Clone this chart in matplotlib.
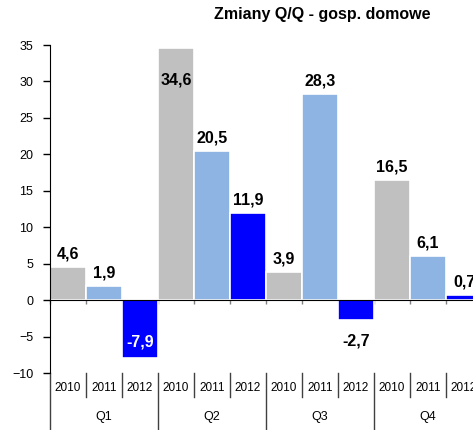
import numpy as np
import matplotlib
matplotlib.use("Agg")
import matplotlib.pyplot as plt
import matplotlib.transforms as mtransforms

plt.rcParams['font.family'] = ['Liberation Sans', 'DejaVu Sans']

# data
quarters = ["Q1", "Q2", "Q3", "Q4"]
years = ["2010", "2011", "2012"]
values = [
    [4.6, 1.9, -7.9],    # Q1
    [34.6, 20.5, 11.9],  # Q2
    [3.9, 28.3, -2.7],   # Q3
    [16.5, 6.1, 0.7],    # Q4
]
colors = ["#C0C0C0", "#8DB4E2", "#0000FF"]
title = "Zmiany Q/Q - gosp. domowe"

fig = plt.figure(figsize=(4.73, 4.30), dpi=100)
# axes runs past the right edge of the figure (chart is cropped there)
ax = fig.add_axes([50/473, 57/430, 432/473, 328/430])

ymin, ymax = -10, 35
nq, ny = len(quarters), len(years)

for qi, row in enumerate(values):
    for yi, v in enumerate(row):
        x = qi*ny + yi + 0.5
        ax.bar(x, v, width=1.0, color=colors[yi], edgecolor="white", linewidth=1.2, zorder=2)
        lab = ("%.1f" % v).replace(".", ",")
        col = "black"
        if v >= 0:
            if v + 3.5 > ymax:
                y, va, dy = v, "top", -18
            else:
                y, va, dy = v, "bottom", 4
        else:
            if v - 3.5 < ymin:
                y, va, dy, col = v, "bottom", 6, "white"
            else:
                y, va, dy = v, "top", -10
        ax.annotate(lab, (x, y), xytext=(0, dy), textcoords="offset points",
                    ha="center", va=va, fontsize=11.5, fontweight="bold", color=col,
                    zorder=3, annotation_clip=False)

ax.set_xlim(0, nq*ny)
ax.set_ylim(ymin, ymax)
ax.set_yticks(np.arange(ymin, ymax + 1, 5))
ax.tick_params(axis="y", length=5, width=1, labelsize=9, pad=7, direction="out")

ax.spines["top"].set_visible(False)
ax.spines["right"].set_visible(False)
ax.spines["bottom"].set_position(("data", 0))
ax.spines["bottom"].set_zorder(4)
ax.set_xticks(np.arange(0, nq*ny + 1))
ax.set_xticklabels([])
ax.tick_params(axis="x", length=3, width=1, color="#808080", direction="out")

# category labels under the plot
trans = mtransforms.blended_transform_factory(ax.transData, ax.transAxes)
for qi, q in enumerate(quarters):
    for yi, yr in enumerate(years):
        x = qi*ny + yi
        ax.text(x + 0.5, -0.046, yr, transform=trans, ha="center", va="center",
                fontsize=8.5, clip_on=False)
        if yi > 0:
            ax.plot([x, x], [0, -0.073], transform=trans, color="#404040",
                    linewidth=1, clip_on=False)
    ax.text(qi*ny + ny/2, -0.134, q, transform=trans, ha="center", va="center",
            fontsize=9, clip_on=False)
    ax.plot([qi*ny, qi*ny], [0, -0.17], transform=trans, color="#404040",
            linewidth=1, clip_on=False)

fig.text(322/473, 1 - 15/430, title, ha="center", va="center",
         fontsize=11.5, fontweight="bold")

fig.savefig("out.png", dpi=100)
